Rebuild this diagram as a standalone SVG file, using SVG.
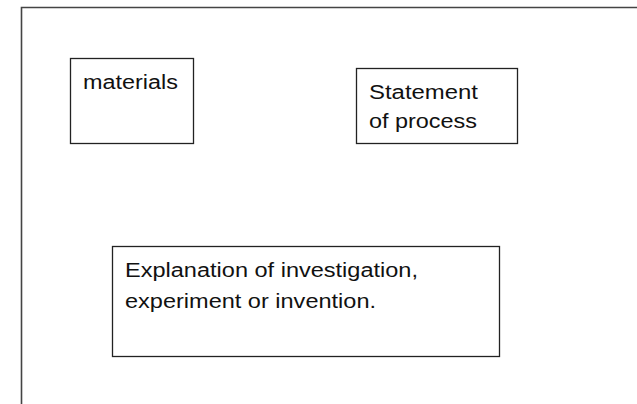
<svg xmlns="http://www.w3.org/2000/svg" width="637" height="404" viewBox="0 0 637 404">
<style>
.box{fill:#fff;stroke:#222;stroke-width:1.3}
.t{font-family:"Liberation Sans","DejaVu Sans",sans-serif;font-size:20px;fill:#111}
.frame{fill:none;stroke:#444;stroke-width:1.6}
</style>
<rect width="637" height="404" fill="#fff"/>
<g id="frame"><path class="frame" d="M21.5,404 V7.5 H637"/></g>
<g id="connectors"></g>
<g id="materials">
<rect class="box" x="70.5" y="58.5" width="123" height="85"/>
<text class="t" x="83" y="89" textLength="95" lengthAdjust="spacingAndGlyphs">materials</text>
</g>
<g id="statement">
<rect class="box" x="356.5" y="68.5" width="161" height="75"/>
<text class="t" x="369" y="99" textLength="109" lengthAdjust="spacingAndGlyphs">Statement</text>
<text class="t" x="369" y="128" textLength="108" lengthAdjust="spacingAndGlyphs">of process</text>
</g>
<g id="explanation">
<rect class="box" x="112.5" y="246.5" width="387" height="110"/>
<text class="t" x="125" y="277" textLength="293" lengthAdjust="spacingAndGlyphs">Explanation of investigation,</text>
<text class="t" x="125" y="308" textLength="251" lengthAdjust="spacingAndGlyphs">experiment or invention.</text>
</g>
</svg>
